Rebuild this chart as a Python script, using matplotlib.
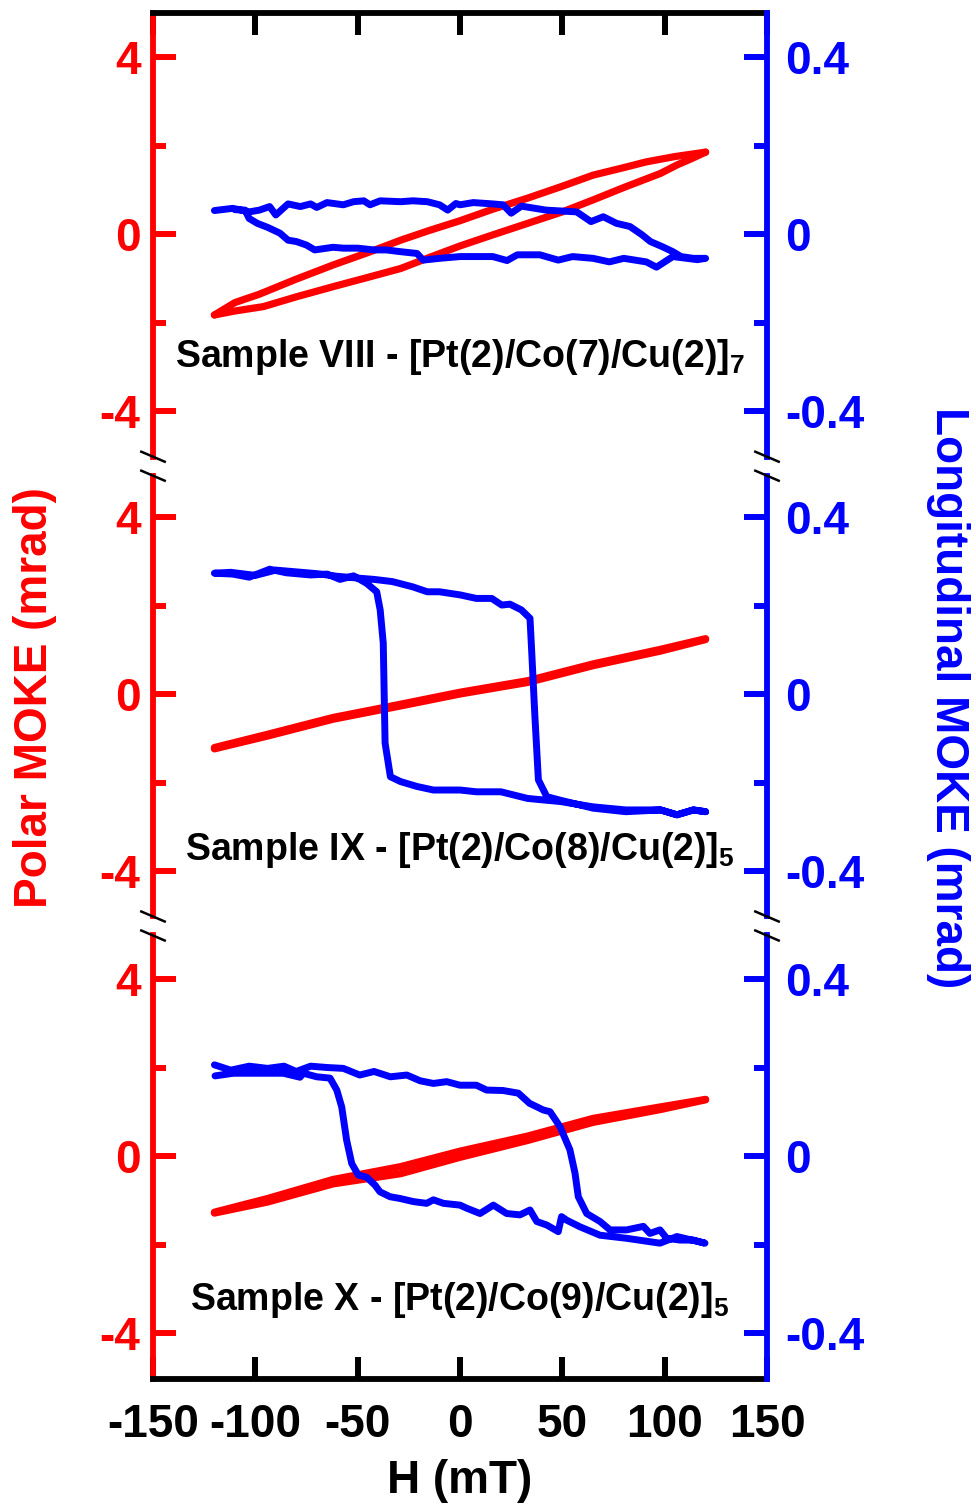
import matplotlib
matplotlib.use("Agg")
import matplotlib.pyplot as plt
from matplotlib.lines import Line2D

plt.rcParams['font.family'] = ['Liberation Sans', 'DejaVu Sans']
plt.rcParams['font.weight'] = 'bold'
plt.rcParams['mathtext.fontset'] = 'custom'
plt.rcParams['mathtext.rm'] = 'Liberation Sans:bold'
plt.rcParams['mathtext.it'] = 'Liberation Sans:bold'
plt.rcParams['mathtext.bf'] = 'Liberation Sans:bold'

# ---------------- data ----------------
x_ticks = [-150, -100, -50, 0, 50, 100, 150]
x_ticklabels = ['-150', '-100', '-50', '0', '50', '100', '150']
left_ticks = [-4, 0, 4]
left_ticklabels = ['-4', '0', '4']
right_ticks = [-0.4, 0, 0.4]
right_ticklabels = ['-0.4', '0', '0.4']

sample_labels = [
    'Sample VIII - [Pt(2)/Co(7)/Cu(2)]$_7$',
    'Sample IX - [Pt(2)/Co(8)/Cu(2)]$_5$',
    'Sample X - [Pt(2)/Co(9)/Cu(2)]$_5$',
]

# Sample VIII
polar1_up_H = [-120, -110, -98, -80, -62, -45, -29, -15, 0, 16, 33, 50, 65, 80, 91, 105, 120]
polar1_up_M = [-1.83, -1.55, -1.36, -1.02, -0.70, -0.42, -0.14, 0.08, 0.30, 0.56, 0.81, 1.08, 1.33, 1.50, 1.63, 1.75, 1.85]
polar1_dn_H = [-120, -110, -96, -80, -62, -45, -29, -15, 0, 16, 33, 50, 65, 80, 98, 106, 113, 120]
polar1_dn_M = [-1.83, -1.74, -1.64, -1.42, -1.19, -0.98, -0.78, -0.53, -0.27, -0.02, 0.24, 0.50, 0.77, 1.05, 1.37, 1.56, 1.70, 1.85]

long1_H = [-120, -111, -103, -98, -93, -90, -84, -78, -73, -70, -65, -57, -52, -47, -44, -39,
           -29, -23, -16, -10, -6, -2, 0, 6.5, 16, 21, 25, 30, 42, 57, 64, 70, 76.5, 83, 89,
           93, 99, 104, 108, 114, 120,
           116, 104, 96, 91, 80, 73, 65, 55, 48, 39, 28, 23, 16, 8, 0, -10, -18, -21, -29,
           -36, -42, -50, -57, -62, -71, -75, -80, -84, -88, -94, -99, -103, -105, -110]
long1_M = [0.053, 0.058, 0.050, 0.054, 0.062, 0.043, 0.068, 0.062, 0.068, 0.060, 0.071, 0.066,
           0.073, 0.075, 0.066, 0.075, 0.073, 0.075, 0.073, 0.066, 0.054, 0.069, 0.066, 0.071,
           0.068, 0.066, 0.047, 0.063, 0.054, 0.050, 0.028, 0.039, 0.024, 0.017, -0.002,
           -0.017, -0.029, -0.040, -0.051, -0.055, -0.055,
           -0.058, -0.051, -0.075, -0.063, -0.055, -0.063, -0.055, -0.051, -0.059, -0.047,
           -0.047, -0.060, -0.051, -0.051, -0.051, -0.055, -0.059, -0.044, -0.040, -0.036,
           -0.036, -0.032, -0.032, -0.030, -0.036, -0.025, -0.017, -0.014, 0.002, 0.015,
           0.024, 0.035, 0.054, 0.055]

# Sample IX
polar2_up_H = [-120, -94, -62, -29, 0, 33, 65, 98, 120]
polar2_up_M = [-1.21, -0.91, -0.53, -0.23, 0.04, 0.30, 0.68, 1.01, 1.25]
polar2_dn_H = [-120, -94, -62, -29, 0, 33, 65, 98, 120]
polar2_dn_M = [-1.24, -0.95, -0.57, -0.27, 0.00, 0.26, 0.64, 0.97, 1.23]

long2_H = [120, 114, 106, 98, 81, 65, 49, 42, 33, 20, 8, 0, -3, -13, -21, -29, -34, -36.6, -37.5,
           -39, -40.7, -45.6, -52, -58.6, -65, -73, -85, -93, -103, -111, -120,
           -112, -100, -90, -80, -70, -60, -50, -42, -33, -23, -16, -10, 0, 8, 15.5, 20.4, 24.4,
           30, 34.2, 35, 36.6, 38.3, 42.4, 49, 65, 81, 98, 106, 114, 120]
long2_M = [-0.266, -0.262, -0.273, -0.262, -0.262, -0.255, -0.243, -0.240, -0.236, -0.221,
           -0.221, -0.217, -0.217, -0.217, -0.209, -0.198, -0.187, -0.111, 0.115, 0.19, 0.231,
           0.250, 0.267, 0.259, 0.271, 0.269, 0.274, 0.282, 0.264, 0.271, 0.273,
           0.275, 0.268, 0.280, 0.276, 0.272, 0.266, 0.262, 0.259, 0.254, 0.242, 0.231, 0.231,
           0.224, 0.216, 0.216, 0.201, 0.203, 0.19, 0.171, 0.099, -0.051, -0.194, -0.232,
           -0.24, -0.258, -0.266, -0.262, -0.273, -0.262, -0.266]

# Sample X
polar3_up_H = [-120, -94, -62, -29, 0, 33, 65, 98, 120]
polar3_up_M = [-1.27, -0.96, -0.53, -0.24, 0.11, 0.45, 0.85, 1.11, 1.28]
polar3_dn_H = [-120, -94, -62, -29, 0, 33, 65, 98, 120]
polar3_dn_M = [-1.29, -1.04, -0.63, -0.40, -0.03, 0.35, 0.76, 1.05, 1.27]

long3_H = [-120, -112, -103, -94, -86, -80, -73, -65, -57, -49, -42, -34, -26, -19.5, -13, -6.5,
           0, 8, 13, 21, 28.5, 34, 40.7, 44, 48.9, 53.7, 56.2, 57.8, 61.9, 68.4, 73.3, 81.4,
           89.6, 92.8, 97.7, 101, 107.5, 114, 119.7,
           106, 97.7, 81.4, 68.4, 58.6, 52.1, 49.6, 48, 42.4, 37.5, 34.2, 29.3, 22.8, 16.3, 9.8,
           3.3, 0, -8.1, -13, -16.3, -22.8, -29.3, -34.2, -39.1, -41.5, -45.6, -49.7, -52.9,
           -55.4, -57.8, -60.2, -63.5, -70, -76.5, -78.2, -86.3, -94.4, -102.6, -110.8, -119.7]
long3_M = [0.206, 0.194, 0.203, 0.198, 0.203, 0.191, 0.203, 0.200, 0.198, 0.183, 0.191, 0.179,
           0.183, 0.170, 0.164, 0.168, 0.160, 0.160, 0.149, 0.148, 0.142, 0.119, 0.104, 0.100,
           0.066, 0.014, -0.039, -0.092, -0.130, -0.148, -0.167, -0.167, -0.159, -0.175, -0.167,
           -0.186, -0.190, -0.190, -0.197,
           -0.182, -0.197, -0.186, -0.179, -0.160, -0.145, -0.137, -0.171, -0.156, -0.148,
           -0.122, -0.133, -0.130, -0.111, -0.130, -0.118, -0.111, -0.107, -0.099, -0.107,
           -0.103, -0.096, -0.092, -0.081, -0.066, -0.048, -0.043, -0.017, 0.036, 0.111, 0.149,
           0.176, 0.179, 0.187, 0.178, 0.187, 0.187, 0.187, 0.187, 0.181]

panels = [
    (polar1_up_H, polar1_up_M, polar1_dn_H, polar1_dn_M, long1_H, long1_M),
    (polar2_up_H, polar2_up_M, polar2_dn_H, polar2_dn_M, long2_H, long2_M),
    (polar3_up_H, polar3_up_M, polar3_dn_H, polar3_dn_M, long3_H, long3_M),
]

# ---------------- layout (pixels) ----------------
W, HH = 976, 1507
XL, XR = 153, 767
PPU = 44.25
frames = [(13, 457, 234), (476, 916, 694), (935, 1379, 1156)]  # top, bottom, zero line
label_base = [367, 860, 1310]

RED = '#ff0000'
BLUE = '#0000ff'
LW_SP = 4.2
FS = 33

fig = plt.figure(figsize=(W / 100, HH / 100), dpi=100)

for i, ((T, B, y0), data) in enumerate(zip(frames, panels)):
    rect = [XL / W, 1 - B / HH, (XR - XL) / W, (B - T) / HH]
    ax = fig.add_axes(rect)
    ylo, yhi = (y0 - B) / PPU, (y0 - T) / PPU
    ax.set_xlim(-150, 150)
    ax.set_ylim(ylo, yhi)
    ax.patch.set_alpha(0)

    uH, uM, dH, dM, lH, lM = data
    ax.plot(uH, uM, color=RED, lw=5.2, solid_capstyle='round', solid_joinstyle='round')
    ax.plot(dH, dM, color=RED, lw=5.2, solid_capstyle='round', solid_joinstyle='round')

    ax2 = ax.twinx()
    ax2.set_ylim(ylo / 10, yhi / 10)
    ax2.plot(lH, lM, color=BLUE, lw=5.0, solid_capstyle='round', solid_joinstyle='round')

    # spines
    for s in ['top', 'bottom', 'right']:
        ax.spines[s].set_visible(False)
    ax.spines['left'].set_color(RED)
    ax.spines['left'].set_linewidth(LW_SP)
    for s in ['top', 'bottom', 'left']:
        ax2.spines[s].set_visible(False)
    ax2.spines['right'].set_color(BLUE)
    ax2.spines['right'].set_linewidth(LW_SP)

    # y ticks
    ax.set_yticks(left_ticks)
    ax.set_yticklabels(left_ticklabels)
    ax.set_yticks([-2, 2], minor=True)
    ax.tick_params(axis='y', which='major', direction='in', length=16.5, width=4.3,
                   color=RED, labelcolor=RED, labelsize=FS, pad=9, right=False)
    ax.tick_params(axis='y', which='minor', direction='in', length=9.5, width=4.3,
                   color=RED, right=False)
    ax2.set_yticks(right_ticks)
    ax2.set_yticklabels(right_ticklabels)
    ax2.set_yticks([-0.2, 0.2], minor=True)
    ax2.tick_params(axis='y', which='major', direction='in', length=16.5, width=4.3,
                    color=BLUE, labelcolor=BLUE, labelsize=FS, pad=13)
    ax2.tick_params(axis='y', which='minor', direction='in', length=9.5, width=4.3, color=BLUE)
    for lab in ax.get_yticklabels() + ax2.get_yticklabels():
        lab.set_fontweight('bold')

    # x axis
    ax.set_xticks(x_ticks)
    if i == 0:
        ax.spines['top'].set_visible(True)
        ax.spines['top'].set_color('black')
        ax.spines['top'].set_linewidth(LW_SP)
        ax.tick_params(axis='x', which='major', top=True, bottom=False, labeltop=False,
                       labelbottom=False, direction='in', length=16, width=4.3, color='black')
    elif i == 2:
        ax.spines['bottom'].set_visible(True)
        ax.spines['bottom'].set_color('black')
        ax.spines['bottom'].set_linewidth(LW_SP)
        ax.set_xticklabels(x_ticklabels)
        ax.tick_params(axis='x', which='major', top=False, bottom=True, direction='in',
                       length=16, width=4.3, color='black', labelsize=FS, pad=17)
        for lab in ax.get_xticklabels():
            lab.set_fontweight('bold')
    else:
        ax.tick_params(axis='x', which='both', top=False, bottom=False,
                       labelbottom=False, labeltop=False)

    fig.text(460 / W, 1 - label_base[i] / HH, sample_labels[i], ha='center', va='baseline',
             fontsize=27, fontweight='bold', color='black')

# break marks
for yc in [456.7, 475.7, 916.5, 935.5]:
    for xc in [XL, XR]:
        xs = [(xc - 11.7) / W, (xc + 11.7) / W]
        ys = [1 - (yc - 5) / HH, 1 - (yc + 5) / HH]
        fig.add_artist(Line2D(xs, ys, color='black', lw=1.8, transform=fig.transFigure))

# axis labels
fig.text(460 / W, 1 - 1481 / HH, 'H (mT)', ha='center', va='center', fontsize=FS,
         fontweight='bold', color='black')
fig.text(35 / W, 1 - 698 / HH, 'Polar MOKE (mrad)', ha='center', va='center', rotation=90,
         fontsize=FS, fontweight='bold', color=RED)
fig.text(948 / W, 1 - 698 / HH, 'Longitudinal MOKE (mrad)', ha='center', va='center',
         rotation=270, fontsize=FS, fontweight='bold', color=BLUE)

fig.savefig('out.png', dpi=100)
